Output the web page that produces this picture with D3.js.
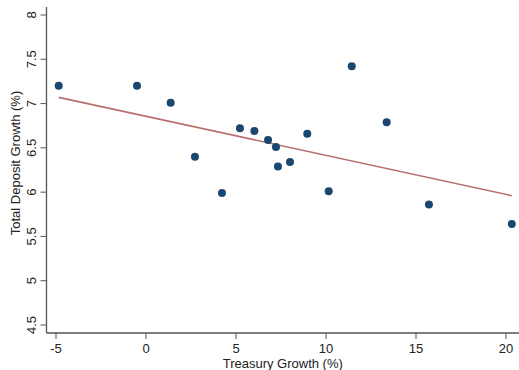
<!DOCTYPE html>
<html>
<head>
<meta charset="utf-8">
<script src="https://cdn.jsdelivr.net/npm/d3@7"></script>
<style>
  body { margin: 0; background: #fff; }
  svg { display: block; font-family: "Liberation Sans", Arial, Helvetica, sans-serif; }
</style>
</head>
<body>
<div id="chart"></div>
<script>
// Treasury growth (%) vs total deposit growth (%)
const treasuryGrowth = [-4.85, -0.5, 1.37, 2.72, 4.22, 5.22, 6.02, 6.78, 7.22, 7.33, 8.0, 8.96, 10.15, 11.43, 13.37, 15.72, 20.32];
const depositGrowth  = [7.20, 7.20, 7.01, 6.40, 5.99, 6.72, 6.69, 6.59, 6.51, 6.29, 6.34, 6.66, 6.01, 7.42, 6.79, 5.86, 5.64];

// fitted line endpoints
const fitX = [-4.85, 20.32];
const fitY = [7.07, 5.96];

const xTicks = [-5, 0, 5, 10, 15, 20];
const yTicks = [4.5, 5, 5.5, 6, 6.5, 7, 7.5, 8];

const W = 519, H = 370;
const left = 46.5, bottom = 333;

const x = d3.scaleLinear().domain([-5, 20]).range([56, 506]);
const y = d3.scaleLinear().domain([4.5, 8]).range([325, 15]);

const svg = d3.select("#chart").append("svg")
    .attr("width", W).attr("height", H);

const axisColor = "#555";

// y axis
const yAxisG = svg.append("g").attr("transform", `translate(${left},0)`);
yAxisG.append("line")
    .attr("x1", 0).attr("x2", 0).attr("y1", 7).attr("y2", bottom)
    .attr("stroke", axisColor).attr("stroke-width", 1.3);
yAxisG.selectAll(".tick").data(yTicks).join("line")
    .attr("x1", -6).attr("x2", 0)
    .attr("y1", d => y(d)).attr("y2", d => y(d))
    .attr("stroke", axisColor).attr("stroke-width", 1);
yAxisG.selectAll(".lab").data(yTicks).join("text")
    .attr("transform", d => `translate(-11,${y(d)}) rotate(-90)`)
    .attr("text-anchor", "middle")
    .attr("font-size", 13)
    .attr("fill", "#222")
    .text(d => d);

// x axis
const xAxisG = svg.append("g").attr("transform", `translate(0,${bottom})`);
xAxisG.append("line")
    .attr("x1", left).attr("x2", W).attr("y1", 0).attr("y2", 0)
    .attr("stroke", axisColor).attr("stroke-width", 1.3);
xAxisG.selectAll(".tick").data(xTicks).join("line")
    .attr("x1", d => x(d)).attr("x2", d => x(d))
    .attr("y1", 0).attr("y2", 6)
    .attr("stroke", axisColor).attr("stroke-width", 1);
xAxisG.selectAll(".lab").data(xTicks).join("text")
    .attr("x", d => x(d)).attr("y", 19.5)
    .attr("text-anchor", "middle")
    .attr("font-size", 13)
    .attr("fill", "#222")
    .text(d => d);

// axis titles
svg.append("text")
    .attr("x", (left + W) / 2).attr("y", 367.5)
    .attr("text-anchor", "middle")
    .attr("font-size", 13).attr("fill", "#222")
    .text("Treasury Growth (%)");

svg.append("text")
    .attr("transform", `translate(20,${(7 + bottom) / 2 - 7}) rotate(-90)`)
    .attr("text-anchor", "middle")
    .attr("font-size", 13).attr("fill", "#222")
    .text("Total Deposit Growth (%)");

// fit line
svg.append("line")
    .attr("x1", x(fitX[0])).attr("y1", y(fitY[0]))
    .attr("x2", x(fitX[1])).attr("y2", y(fitY[1]))
    .attr("stroke", "#b86e6c").attr("stroke-width", 1.6);

// points
svg.append("g").selectAll("circle")
    .data(treasuryGrowth.map((t, i) => [t, depositGrowth[i]]))
    .join("circle")
    .attr("cx", d => x(d[0])).attr("cy", d => y(d[1]))
    .attr("r", 4)
    .attr("fill", "#1a476f");
</script>
</body>
</html>
